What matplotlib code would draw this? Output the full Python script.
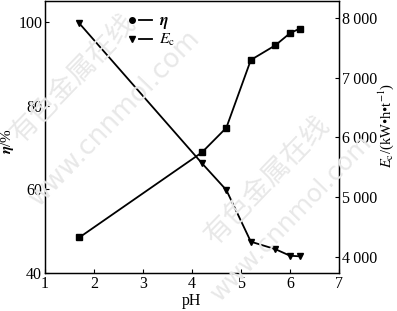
import matplotlib
matplotlib.use("Agg")
import matplotlib.pyplot as plt
from matplotlib.lines import Line2D
from matplotlib.legend_handler import HandlerTuple
from matplotlib.ticker import FuncFormatter

plt.rcParams.update({
    "font.family": ["Liberation Serif", "DejaVu Serif"],
    "font.size": 11.5,
    "mathtext.fontset": "stix",
    "xtick.direction": "in",
    "ytick.direction": "in",
})

ph = [1.7, 4.2, 4.7, 5.2, 5.7, 6.0, 6.2]
eta = [48.5, 68.8, 74.7, 90.9, 94.4, 97.3, 98.4]
ec = [7910, 5570, 5120, 4255, 4130, 4020, 4010]

fig = plt.figure(figsize=(3.97, 3.11), dpi=100)
ax = fig.add_axes([0.1134, 0.122, 0.7406, 0.875])
ax2 = ax.twinx()

# watermark
wm = dict(color="#e8e8e8", rotation=46, ha="center", va="center", zorder=0)
cjk = ["Noto Sans CJK SC", "DejaVu Sans"]
fig.text(0.184, 0.749, "有色金属在线", fontsize=20, family=cjk, **wm)
fig.text(0.29, 0.62, "www.cnnmol.com", fontsize=19, family="DejaVu Sans", **wm)
fig.text(0.675, 0.421, "有色金属在线", fontsize=20, family=cjk, **wm)
fig.text(0.735, 0.30, "www.cnnmol.com", fontsize=18, family="DejaVu Sans", **wm)

ax.plot(ph, eta, "-s", color="black", lw=1.3, ms=4.5)
ax2.plot(ph, ec, "-v", color="black", lw=1.3, ms=4.5)

ax.set_xlim(1, 7)
ax.set_ylim(40, 105)
ax.set_xticks([1, 2, 3, 4, 5, 6, 7])
ax.set_yticks([40, 60, 80, 100])
ax2.set_ylim(3730, 8285)
ax2.set_yticks([4000, 5000, 6000, 7000, 8000])
ax2.yaxis.set_major_formatter(FuncFormatter(lambda v, p: f"{int(v) // 1000}\u2009000"))
for a in (ax, ax2):
    a.tick_params(length=3, width=0.8, pad=2)
    for s in a.spines.values():
        s.set_linewidth(0.9)

ax.set_xlabel("pH", labelpad=1)
ax.set_ylabel(r"$\boldsymbol{\eta}$/%", fontsize=11)
ax.yaxis.set_label_coords(-0.10, 0.485)
ax2.set_ylabel(r"$E_{\rm c}$/(kW•h•t$^{-1}$)", fontsize=10.5)
ax2.yaxis.set_label_coords(1.128, 0.544)

h1 = (Line2D([], [], marker="o", ls="none", color="black", ms=4),
      Line2D([], [], color="black", lw=1.3))
h2 = (Line2D([], [], marker="v", ls="none", color="black", ms=4),
      Line2D([], [], color="black", lw=1.3))
ax.legend([h1, h2], [r"$\boldsymbol{\eta}$", r"$E_{\rm c}$"],
          handler_map={tuple: HandlerTuple(ndivide=None, pad=0.0)},
          loc="upper left", bbox_to_anchor=(0.235, 0.995), frameon=False,
          handlelength=1.7, handletextpad=0.4, labelspacing=0.05, borderpad=0.2)

fig.savefig("out.png", dpi=100)
